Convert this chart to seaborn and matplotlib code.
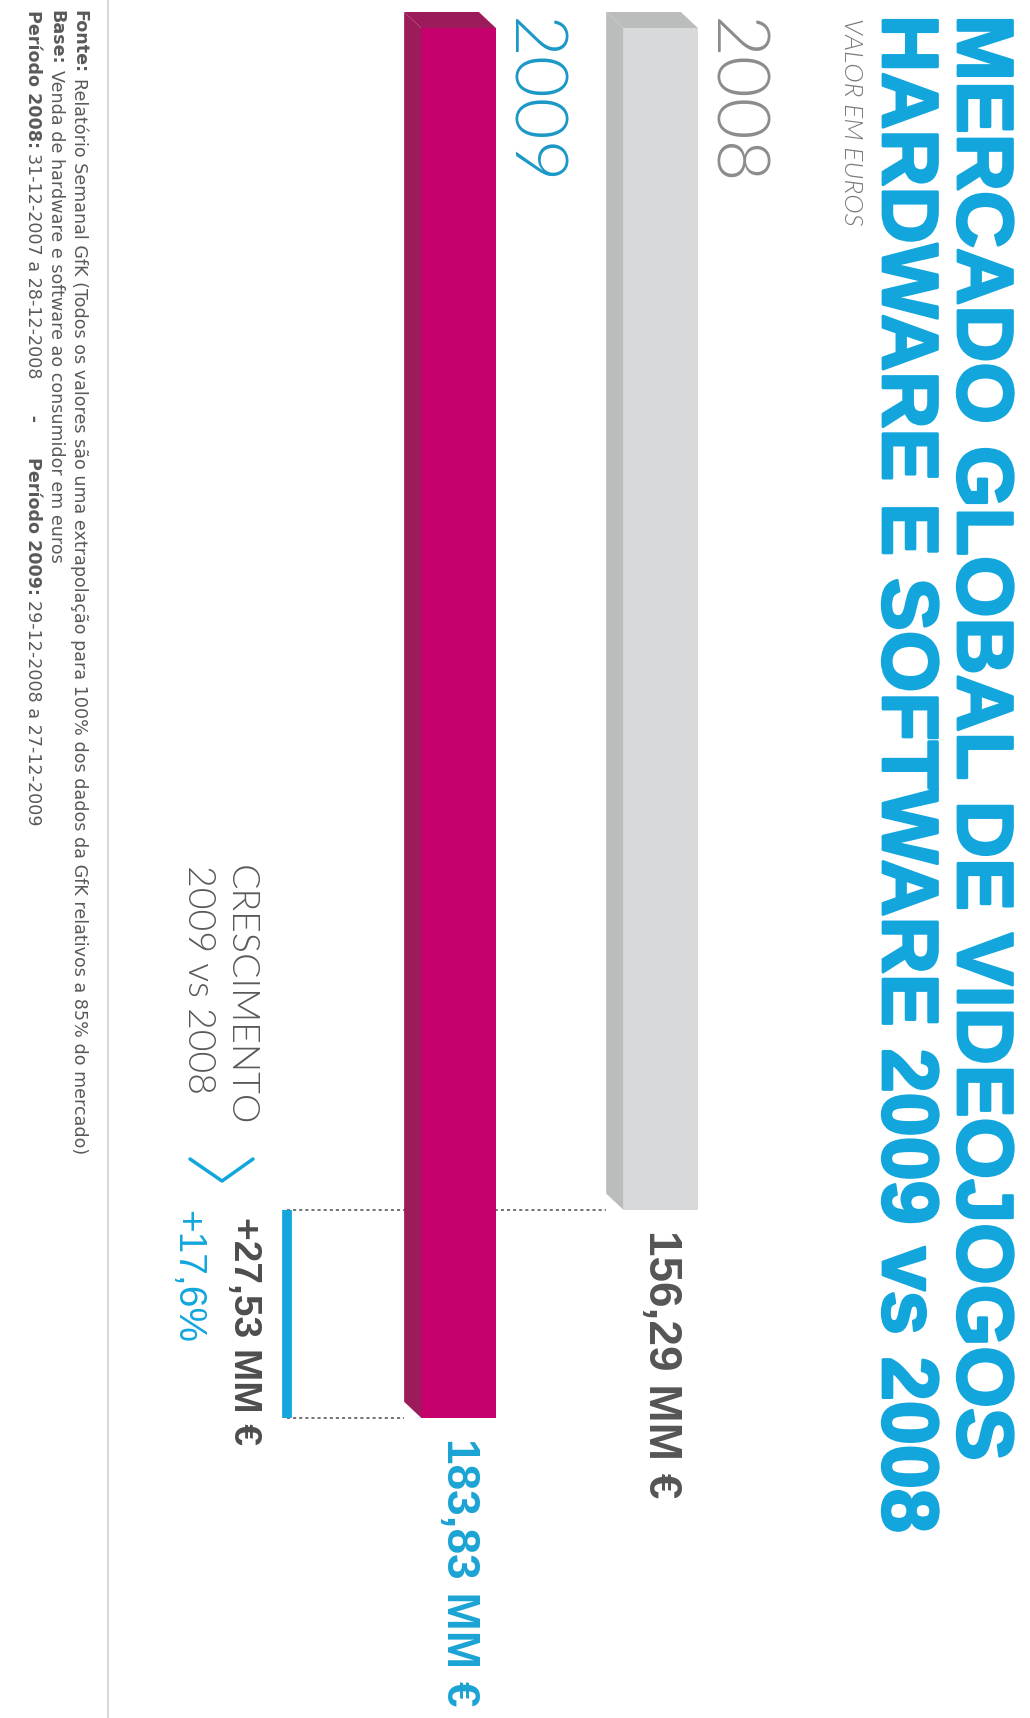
import matplotlib
matplotlib.use('Agg')
import matplotlib.pyplot as plt
import matplotlib.patheffects as pe
from matplotlib.patches import Polygon
from matplotlib.lines import Line2D
import pandas as pd
import seaborn as sns

# data (values in MM €)
years = ['2009', '2008']
values = [183.83, 156.29]
value_labels = ['183,83 MM €', '156,29 MM €']
growth_abs = '+27,53 MM €'
growth_pct = '+17,6%'

title_lines = ['MERCADO GLOBAL DE VIDEOJOGOS', 'HARDWARE E SOFTWARE 2009 vs 2008']
subtitle = 'VALOR EM EUROS'
growth_title = ['CRESCIMENTO', '2009 vs 2008']
footer = [
    [('Fonte:', 'bold'), ('Relatório Semanal GfK (Todos os valores são uma extrapolação para 100% dos dados da GfK relativos a 85% do mercado)', 'normal')],
    [('Base:', 'bold'), ('Venda de hardware e software ao consumidor em euros', 'normal')],
    [('Período 2008:', 'bold'), ('31-12-2007 a 28-12-2008', 'normal'), ('     -     ', 'bold'),
     ('Período 2009:', 'bold'), ('29-12-2008 a 27-12-2009', 'normal')],
]

front_colors = ['#c6006c', '#d8d9db']
side_colors = ['#9c1c5b', '#bbbdbd']
year_colors = ['#1a98c6', '#8c8c8c']
label_colors = ['#1aa3d4', '#555555']
CYAN = '#12a6dd'
GREY_TXT = '#58595b'

W, H = 1030, 1718
sns.set_style('white')
fig = plt.figure(figsize=(W / 100, H / 100), dpi=100)
ax = fig.add_axes([0, 0, 1, 1])

df = pd.DataFrame({'year': years, 'value': values})
sns.barplot(data=df, x='year', y='value', hue='year', order=years, hue_order=years,
            palette=front_colors, width=0.37, saturation=1, legend=False,
            linewidth=0, ax=ax, zorder=3)

# map data to page pixels: the chart is laid out sideways, bars growing downward
PX_X0, PX_PER_X = 458.5, 202.0
PX_Y0, PX_PER_Y = 28.0, 7.56
ax.set_xlim(-PX_X0 / PX_PER_X, (W - PX_X0) / PX_PER_X)
ax.set_ylim((H - PX_Y0) / PX_PER_Y, -PX_Y0 / PX_PER_Y)
ax.axis('off')

# fake 3D: side face on the left and bevelled top
dx, dy = 17 / PX_PER_X, 16 / PX_PER_Y
bars = sorted(ax.patches, key=lambda p: p.get_x())
for bar, side in zip(bars, side_colors):
    x0, w, h = bar.get_x(), bar.get_width(), bar.get_height()
    ax.add_patch(Polygon([(x0 - dx, -dy), (x0, 0), (x0, h), (x0 - dx, h - dy)],
                         closed=True, facecolor=side, lw=0, zorder=3))
    ax.add_patch(Polygon([(x0 - dx, -dy), (x0 + w - dx, -dy), (x0 + w, 0), (x0, 0)],
                         closed=True, facecolor=side, lw=0, zorder=3))

rot = dict(rotation=-90, rotation_mode='anchor')

for bar, yr, yc, lab, lc in zip(bars, years, year_colors, value_labels, label_colors):
    x0, w, h = bar.get_x(), bar.get_width(), bar.get_height()
    ax.annotate(yr, xy=(x0 + w, 0), xytext=(15, 10), textcoords='offset pixels',
                ha='left', va='baseline', fontsize=52, family='Lato', weight=300,
                color=yc, **rot)
    ax.annotate(lab, xy=(x0 + w / 2, h), xytext=(0, -20), textcoords='offset pixels',
                ha='left', va='center', fontsize=33, family='Liberation Sans',
                weight='bold', color=lc, **rot)

# growth bracket
x_g = (287 - PX_X0) / PX_PER_X
ax.vlines(x_g, values[1], values[0], color=CYAN, lw=7, zorder=2)
ax.hlines(values[1], x_g, bars[1].get_x() - dx, color='#4d4d4d', lw=1.1,
          linestyles=(0, (2, 2)), zorder=1)
ax.hlines(values[0], x_g, bars[0].get_x() - dx, color='#4d4d4d', lw=1.1,
          linestyles=(0, (2, 2)), zorder=1)
ax.annotate(growth_abs, xy=(x_g, values[1]), xytext=(-25, -7), textcoords='offset pixels',
            ha='left', va='top', fontsize=28, family='Liberation Sans', weight='bold',
            color='#4d4d4d', **rot)
ax.annotate(growth_pct, xy=(x_g, values[1]), xytext=(-82, 0), textcoords='offset pixels',
            ha='left', va='top', fontsize=28, family='Liberation Sans',
            color=CYAN, **rot)


def fx(x):
    return x / W


def fy(y):
    return 1 - y / H


def vtext(x, y, s, **kw):
    return fig.text(fx(x), fy(y), s, ha='left', va='baseline', **rot, **kw)


# title block
for xb, line in zip([958, 883], title_lines):
    vtext(xb, 15, line, fontsize=57, family='Liberation Sans', weight='bold', color=CYAN,
          path_effects=[pe.withStroke(linewidth=2, foreground=CYAN)])
vtext(844, 18, subtitle, fontsize=19, family='Lato', weight=300, style='italic',
      color='#7a7a7a')

# growth caption and chevron
for xb, line in zip([230, 188], growth_title):
    vtext(xb, 865, line, fontsize=27, family='Lato', weight=300, color=GREY_TXT)
fig.add_artist(Line2D([fx(190), fx(222), fx(253)], [fy(1159), fy(1181), fy(1159)],
                      color=CYAN, lw=2.5, transform=fig.transFigure))

# footer
fig.add_artist(Line2D([fx(108), fx(108)], [0, 1], color='#d9d9d9', lw=1.5,
                      transform=fig.transFigure))
fig.canvas.draw()
renderer = fig.canvas.get_renderer()
for xb, segs in zip([74, 51, 28], footer):
    y = 10
    for s, wt in segs:
        t = vtext(xb, y, s, fontsize=12.6, family='DejaVu Sans', weight=wt, color=GREY_TXT)
        y += t.get_window_extent(renderer).height + 5

fig.savefig('out.png', dpi=100)
